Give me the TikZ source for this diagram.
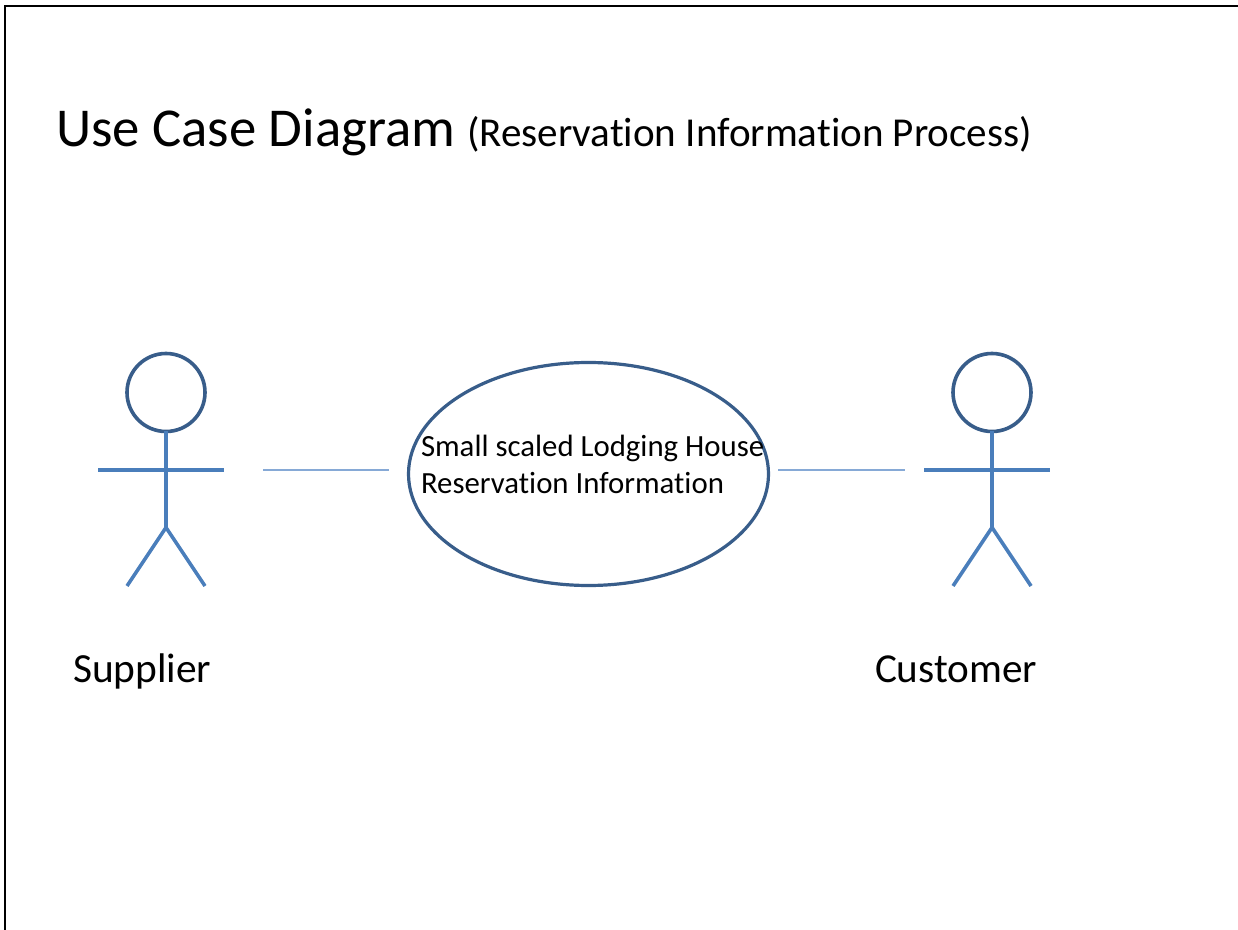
\documentclass[tikz,border=0pt]{standalone}
\usepackage{fontspec}
\setmainfont[Ligatures=CommonOff]{Carlito}
\usetikzlibrary{shapes.geometric}
\definecolor{actorblue}{HTML}{4A7EBB}
\definecolor{darkblue}{HTML}{385D8A}
\definecolor{linkblue}{HTML}{86A9D6}
\tikzset{
  limb/.style={draw=actorblue,line width=1.8pt},
  armline/.style={draw=actorblue,line width=2.1pt},
  headshape/.style={circle,draw=darkblue,line width=1.8pt,minimum size=39pt,inner sep=0pt,outer sep=0pt},
  usecase/.style={ellipse,draw=darkblue,line width=1.6pt,minimum width=180pt,minimum height=111.5pt,inner sep=0pt,outer sep=0pt},
  link/.style={draw=linkblue,line width=1pt},
  txt/.style={anchor=base west,inner sep=0pt,outer sep=0pt,text=black},
  frameline/.style={draw=black,line width=1pt}
}
\begin{document}
\begin{tikzpicture}[x=0.5pt,y=-0.5pt]
\path[use as bounding box,fill=white] (0,0) rectangle (1238,930);
% frame
\coordinate (fa) at (5,930);
\coordinate (fb) at (5,6.5);
\coordinate (fc) at (1238,6.5);
\draw[frameline] (fa) -- (fb) -- (fc);
% title
\node[txt,font=\fontsize{27.4}{32}\selectfont] (title) at (56,146.5) {Use Case Diagram};
\node[txt,font=\fontsize{20.55}{24}\selectfont] (subtitle) at (467,147) {(Reservation Information Process)};
% supplier
\node[headshape] (h1) at (166,392.5) {};
\coordinate (hip1) at (166,527.5);
\coordinate (al1) at (98,469.7);
\coordinate (ar1) at (224,469.7);
\coordinate (ll1) at (127,586);
\coordinate (lr1) at (205,586);
\draw[limb] (h1.south) -- (hip1);
\draw[armline] (al1) -- (ar1);
\draw[limb] (ll1) -- (hip1) -- (lr1);
\node[txt,font=\fontsize{20.7}{24}\selectfont] (sup) at (73,682.5) {Supplier};
% customer
\node[headshape] (h2) at (992,392.5) {};
\coordinate (hip2) at (992,527.5);
\coordinate (al2) at (924,469.7);
\coordinate (ar2) at (1050,469.7);
\coordinate (ll2) at (953,586);
\coordinate (lr2) at (1031,586);
\draw[limb] (h2.south) -- (hip2);
\draw[armline] (al2) -- (ar2);
\draw[limb] (ll2) -- (hip2) -- (lr2);
\node[txt,font=\fontsize{20.6}{24}\selectfont] (cus) at (875,682.5) {Customer};
% use case
\node[usecase] (uc) at (588.5,474) {};
\node[txt,font=\fontsize{15.4}{18}\selectfont] (uc1) at (421,457) {Small scaled Lodging House};
\node[txt,font=\fontsize{15.4}{18}\selectfont] (uc2) at (421,494) {Reservation Information};
% links
\coordinate (c1a) at (263,470);
\coordinate (c1b) at (389,470);
\coordinate (c2a) at (778,470);
\coordinate (c2b) at (905,470);
\draw[link] (c1a) -- (c1b);
\draw[link] (c2a) -- (c2b);
\end{tikzpicture}
\end{document}
